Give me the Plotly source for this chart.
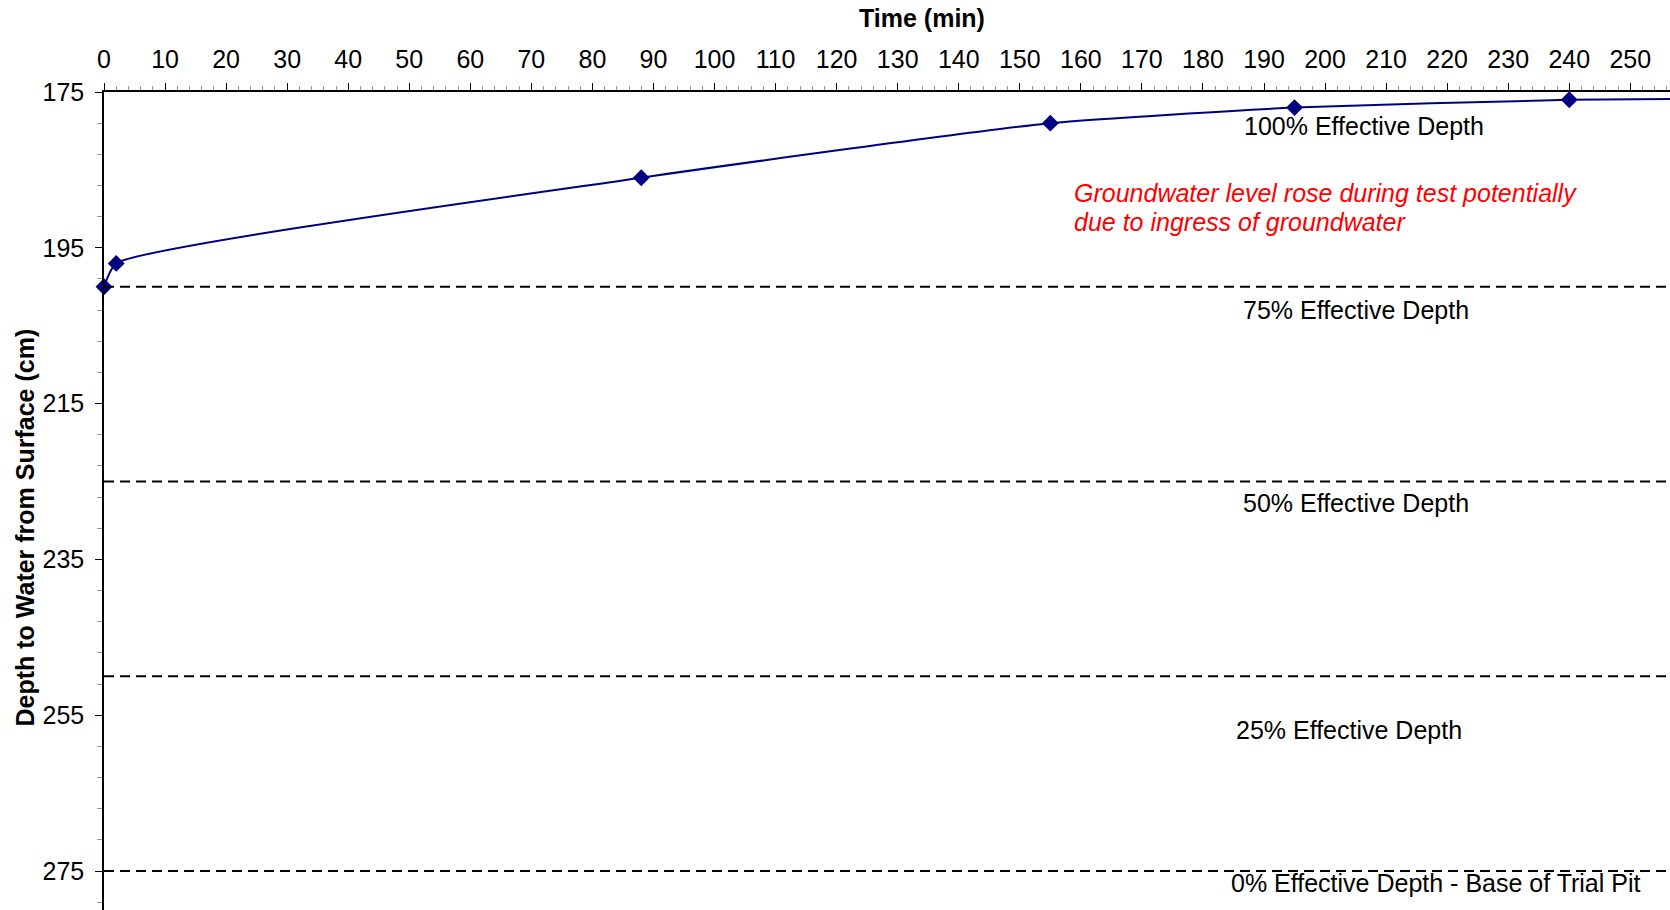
import plotly.graph_objects as go

# Data
time_min = [0, 2, 88, 155, 195, 240, 270]
depth_cm = [200, 197, 186, 179, 177, 176, 175.8]

level_depths = [200, 225, 250, 275]
level_labels = ["100% Effective Depth", "75% Effective Depth", "50% Effective Depth",
                "25% Effective Depth", "0% Effective Depth - Base of Trial Pit"]
label_x = [206.3, 205.1, 205.1, 203.9, 218.2]
label_y = [179.3, 203.0, 227.7, 256.9, 276.5]

note_lines = ["Groundwater level rose during test potentially", "due to ingress of groundwater"]
note_x = 158.5
note_y = [188.0, 191.7]

x_ticks = list(range(0, 260, 10))
y_ticks = [175, 195, 215, 235, 255, 275]

FONT = "Liberation Sans, Arial, sans-serif"
NAVY = "#000080"
FS = 25

fig = go.Figure()
fig.add_trace(go.Scatter(
    x=time_min, y=depth_cm, mode="lines+markers",
    line=dict(color=NAVY, width=2, shape="spline", smoothing=0.5),
    marker=dict(symbol="diamond", size=13, color=NAVY),
    showlegend=False, cliponaxis=False,
))

for d in level_depths:
    fig.add_shape(type="line", xref="paper", x0=0, x1=1, yref="y", y0=d, y1=d,
                  line=dict(color="black", width=2, dash="10px,6px"), layer="above")

for t, xx, yy in zip(level_labels, label_x, label_y):
    fig.add_annotation(x=xx, y=yy, xref="x", yref="y", text=t, showarrow=False,
                       xanchor="center", yanchor="middle",
                       font=dict(family=FONT, size=FS, color="black"))

for t, yy in zip(note_lines, note_y):
    fig.add_annotation(x=note_x, y=yy, xref="x", yref="y", text=t, showarrow=False,
                       xanchor="left", yanchor="middle", align="left",
                       font=dict(family=FONT, size=FS, color="red", style="italic"))

# axis titles
fig.add_annotation(x=134, y=1.0, xref="x", yref="paper", yshift=58, text="<b>Time (min)</b>",
                   showarrow=False, xanchor="center", yanchor="bottom",
                   font=dict(family=FONT, size=FS, color="black"))
fig.add_annotation(x=0, y=230.9, xref="x domain", yref="y", xshift=-79,
                   text="<b>Depth to Water from Surface (cm)</b>",
                   showarrow=False, textangle=-90, xanchor="center", yanchor="middle",
                   font=dict(family=FONT, size=FS, color="black"))

fig.update_layout(
    width=1670, height=910,
    margin=dict(l=104, r=0, t=92, b=0, pad=0),
    plot_bgcolor="white", paper_bgcolor="white",
    font=dict(family=FONT, size=FS, color="black"),
    xaxis=dict(range=[0, 256.5], side="top", tickvals=x_ticks, ticks="outside", ticklen=7,
               tickcolor="black", tickwidth=1, showline=True, linecolor="black", linewidth=1.5,
               showgrid=False, zeroline=False, tickfont=dict(size=FS), ticklabelstandoff=5,
               automargin=False,
               minor=dict(dtick=2, ticks="outside", ticklen=4, tickcolor="#999999", showgrid=False)),
    yaxis=dict(range=[280, 175], tickvals=y_ticks, ticks="outside", ticklen=7,
               tickcolor="black", tickwidth=1, showline=True, linecolor="black", linewidth=1.5,
               showgrid=False, zeroline=False, tickfont=dict(size=FS), ticklabelstandoff=6,
               automargin=False,
               minor=dict(tickvals=[v for v in range(175, 281, 4)], ticks="outside", ticklen=5,
                          tickcolor="#999999", showgrid=False)),
)

fig.write_html("out.html", config={"displayModeBar": False},
               post_script="document.body.style.margin='0px';document.body.style.overflow='hidden';")
